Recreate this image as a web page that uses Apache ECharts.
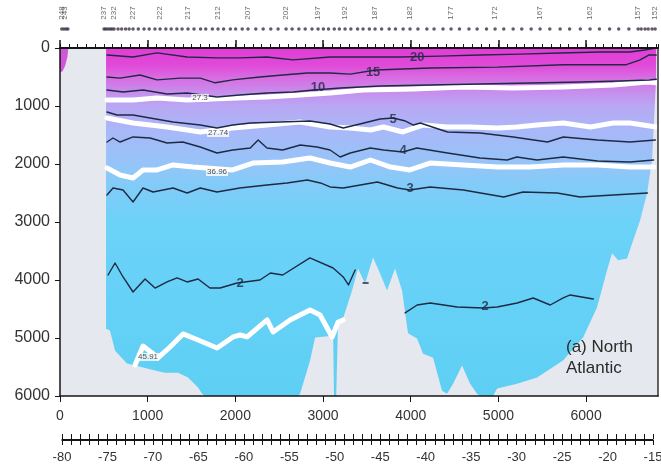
<!DOCTYPE html>
<html>
<head>
<meta charset="utf-8">
<title>North Atlantic section</title>
<script src="https://cdn.jsdelivr.net/npm/echarts@6/dist/echarts.min.js"></script>
<style>
  html, body { margin: 0; padding: 0; background: #fff; }
  #main { width: 661px; height: 468px; }
</style>
</head>
<body>
<div id="main"></div>
<script>
// distance along section in km, depth in m
var kmTicks = [0, 1000, 2000, 3000, 4000, 5000, 6000];
var depthTicks = [0, 1000, 2000, 3000, 4000, 5000, 6000];
var lonLabels = [-80, -75, -70, -65, -60, -55, -50, -45, -40, -35, -30, -25, -20, -15];

// sea floor (depth of water column bottom)
var seafloor = [[525,4840],[570,4870],[628,5220],[764,5440],[856,5475],[1084,5560],[1198,5600],[1346,5600],[1460,5680],[1575,5855],[1620,5960],[1654,6000],[2715,6000],[2738,5960],[2852,5390],[2909,4990],[3115,4960],[3125,6000],[3150,6000],[3172,4700],[3229,4660],[3331,4180],[3399,3800],[3479,4060],[3570,3610],[3650,3890],[3730,4180],[3821,3800],[3901,4180],[3969,4920],[4072,5010],[4141,5270],[4255,5340],[4357,5910],[4414,5960],[4483,5790],[4585,5475],[4677,5790],[4756,5960],[4791,6000],[4939,6000],[4985,5870],[5213,5790],[5441,5680],[5737,5390],[5966,4990],[6125,4470],[6239,3830],[6296,3540],[6365,3660],[6467,3630],[6536,3320],[6616,2970],[6696,2500],[6730,2160],[6753,1930],[6775,1240],[6798,550],[6800,0]];
var coastWater = [[0,420],[30,400],[60,300],[85,150],[95,0]];

// isotherms (deg C)
var iso20 = [[536,120],[833,155],[1107,85],[1450,155],[1790,170],[2050,170],[2360,155],[2660,205],[3080,155],[3420,155],[3880,155],[4330,140],[4790,120],[5250,105],[5700,85],[6160,70],[6500,70],[6670,35],[6790,0]];
var iso15 = [[536,500],[685,520],[913,466],[1107,550],[1370,520],[1600,520],[1770,600],[1970,550],[2280,500],[2540,466],[2820,430],[3080,430],[3310,450],[3600,380],[4220,345],[4990,330],[5740,290],[6450,290],[6610,210],[6720,120],[6800,120]];
var iso10 = [[536,724],[719,759],[947,724],[1221,793],[1450,776],[1790,845],[2050,810],[2360,776],[2660,759],[2890,724],[3200,690],[3650,655],[4220,638],[4790,621],[5360,603],[5930,586],[6390,569],[6720,552],[6800,540]];
var iso5 = [[536,1103],[650,1155],[833,1155],[1027,1207],[1290,1276],[1600,1328],[1790,1379],[1970,1328],[2170,1293],[2510,1276],[2850,1259],[3080,1310],[3230,1379],[3420,1310],[3650,1224],[3800,1207],[3940,1259],[4030,1328],[4110,1293],[4280,1379],[4420,1448],[4790,1465],[5170,1534],[5560,1621],[5740,1534],[6130,1586],[6500,1621],[6790,1586]];
var iso4 = [[536,1621],[605,1552],[685,1621],[833,1534],[1027,1552],[1221,1638],[1400,1621],[1600,1707],[1790,1810],[1970,1758],[2170,1724],[2260,1586],[2360,1724],[2540,1758],[2740,1672],[2930,1707],[3080,1758],[3195,1879],[3310,1810],[3540,1724],[3690,1758],[3910,1793],[4070,1724],[4420,1810],[4790,1896],[5100,1931],[5210,1879],[5440,1931],[5740,1879],[6130,1948],[6500,1965],[6770,1931]];
var iso3 = [[536,2534],[605,2414],[719,2448],[833,2655],[947,2414],[1061,2483],[1290,2414],[1450,2500],[1600,2414],[1790,2483],[2050,2414],[2360,2362],[2590,2327],[2820,2276],[2970,2327],[3080,2396],[3230,2414],[3620,2310],[3850,2414],[3990,2448],[4220,2396],[4600,2448],[5060,2569],[5280,2483],[5670,2500],[5930,2569],[6310,2534],[6700,2500]];
var iso2west = [[548,3914],[628,3707],[719,3948],[833,4207],[970,3982],[1084,4138],[1221,4034],[1335,3965],[1450,4034],[1575,3982],[1710,4138],[1826,4138],[2020,4051],[2280,4000],[2400,3879],[2540,3914],[2850,3620],[3115,3793],[3230,3948],[3290,4086],[3366,3827]];
var iso2bit = [[3457,4051],[3514,4051]];
var iso2east = [[3936,4568],[4073,4431],[4222,4396],[4530,4465],[4826,4482],[4986,4465],[5214,4396],[5397,4310],[5591,4431],[5739,4310],[5819,4258],[6082,4327]];

// neutral density / sigma surfaces (white)
var dens27_3 = [[536,897],[833,897],[1107,862],[1450,897],[2020,862],[2360,845],[2740,810],[3080,776],[3460,724],[4030,707],[4600,672],[5170,690],[5740,672],[6310,638],[6700,586],[6800,600]];
var dens27_74 = [[536,1207],[833,1293],[1221,1362],[1600,1448],[1970,1379],[2360,1328],[2740,1276],[3080,1362],[3310,1379],[3540,1414],[3690,1362],[3910,1448],[4140,1328],[4420,1362],[4680,1362],[4990,1379],[5210,1362],[5440,1328],[5740,1293],[6050,1362],[6310,1293],[6500,1293],[6800,1362]];
var dens36_96 = [[536,2069],[685,2189],[833,2241],[947,2103],[1107,2103],[1290,2017],[1520,2052],[1970,2103],[2200,1983],[2540,1965],[2850,1896],[3080,1983],[3310,2052],[3540,1931],[3770,2052],[3990,2103],[4220,1983],[4600,2017],[4990,2052],[5360,2052],[5740,2017],[6130,2017],[6500,2052],[6770,2052]];
var dens45_91 = [[856,5465],[947,5138],[1050,5258],[1118,5344],[1255,5155],[1403,4930],[1575,5034],[1791,5172],[1974,4982],[2054,4948],[2134,4982],[2362,4689],[2430,4896],[2624,4689],[2852,4517],[2966,4603],[3103,4982],[3172,4724],[3229,4689]];

var isoLabels = [
  { name: '20', value: [4073, 155] },
  { name: '15', value: [3571, 414] },
  { name: '10', value: [2943, 672] },
  { name: '5', value: [3799, 1224] },
  { name: '4', value: [3914, 1758] },
  { name: '3', value: [3994, 2414] },
  { name: '2', value: [2054, 4051] },
  { name: '2', value: [4849, 4448] }
];
var densLabels = [
  { name: '27.3', value: [1597, 862] },
  { name: '27.74', value: [1803, 1465] },
  { name: '36.96', value: [1791, 2138] },
  { name: '45.91', value: [1004, 5327] }
];

// stations along the top
var stationKm = [20, 45, 70, 90, 502, 522, 546, 571, 592, 616, 662, 703, 748, 788, 833, 893, 958, 1017, 1083, 1141, 1207, 1268, 1333, 1392, 1460, 1528, 1603, 1662, 1738, 1802, 1866, 1943, 2003, 2078, 2144, 2233, 2317, 2404, 2487, 2578, 2647, 2724, 2796, 2874, 2943, 3004, 3062, 3128, 3186, 3251, 3317, 3394, 3456, 3528, 3593, 3668, 3754, 3826, 3913, 3992, 4082, 4184, 4266, 4368, 4460, 4556, 4664, 4757, 4864, 4962, 5061, 5168, 5266, 5373, 5475, 5586, 5704, 5812, 5934, 6045, 6152, 6268, 6372, 6488, 6593, 6628, 6672, 6708, 6752, 6787];
var stationLabelKm = [25, 60, 502, 616, 833, 1141, 1460, 1802, 2144, 2578, 2943, 3251, 3593, 3992, 4460, 4962, 5475, 6045, 6593, 6787];
var stationNames = ['248', '243', '237', '232', '227', '222', '217', '212', '207', '202', '197', '192', '187', '182', '177', '172', '167', '162', '157', '152'];

var chart = echarts.init(document.getElementById('main'), null, { renderer: 'canvas' });

var font = 'Liberation Sans, Arial, sans-serif';
var axisColor = '#151515';
var plain = function (v) { return String(v); };

function contour(name, data, color, width, z) {
  return {
    name: name,
    type: 'line',
    data: data,
    symbol: 'none',
    silent: true,
    z: z,
    lineStyle: { color: color, width: width, join: 'round', cap: 'round' }
  };
}

var stationDots = stationKm.map(function (km) { return [km, 0.55]; });
var stationTexts = stationLabelKm.map(function (km, i) {
  return { name: stationNames[i], value: [km, 1.35] };
});

var option = {
  animation: false,
  backgroundColor: '#ffffff',
  title: {
    text: '(a) North\nAtlantic',
    left: 566,
    top: 337,
    padding: 0,
    textStyle: { fontSize: 17, fontWeight: 'normal', color: '#2b2b2b', lineHeight: 21, fontFamily: font }
  },
  grid: [
    { left: 60, right: 3, top: 48, bottom: 72, show: true, backgroundColor: '#e5e8ee', borderWidth: 0, outerBoundsMode: 'none' },
    { left: 60, right: 3, top: 0, height: 40, outerBoundsMode: 'none' },
    { left: 62, right: 8, top: 439, height: 1, outerBoundsMode: 'none' }
  ],
  xAxis: [
    {
      gridIndex: 0, type: 'value', position: 'bottom', min: 0, max: 6820, z: 10,
      axisLine: { onZero: false, lineStyle: { color: axisColor, width: 1.5 } },
      axisTick: { customValues: kmTicks, length: 6, lineStyle: { color: axisColor } },
      axisLabel: { customValues: kmTicks, formatter: plain, margin: 13, fontSize: 14, color: '#333', fontFamily: font },
      splitLine: { show: false }
    },
    {
      gridIndex: 0, type: 'value', position: 'top', min: 0, max: 6820, interval: 100, z: 10,
      axisLine: { onZero: false, lineStyle: { color: axisColor, width: 2 } },
      axisTick: { length: 4, lineStyle: { color: axisColor } },
      axisLabel: { show: false },
      splitLine: { show: false }
    },
    {
      gridIndex: 0, type: 'value', position: 'top', min: 0, max: 6820, z: 10,
      axisLine: { show: false, onZero: false },
      axisTick: { customValues: kmTicks, length: 8, lineStyle: { color: axisColor, width: 1.5 } },
      axisLabel: { show: false },
      splitLine: { show: false }
    },
    { gridIndex: 1, type: 'value', min: 0, max: 6820, show: false },
    {
      gridIndex: 2, type: 'value', position: 'bottom', min: -80, max: -15, interval: 1,
      axisLine: { onZero: false, lineStyle: { color: axisColor, width: 1.2 } },
      axisTick: { length: 5, lineStyle: { color: axisColor } },
      axisLabel: { customValues: lonLabels, formatter: plain, margin: 11, fontSize: 13, color: '#333', fontFamily: font },
      splitLine: { show: false }
    },
    {
      gridIndex: 2, type: 'value', position: 'top', min: -80, max: -15, interval: 1,
      axisLine: { onZero: false, lineStyle: { color: axisColor, width: 1.2 } },
      axisTick: { length: 5, lineStyle: { color: axisColor } },
      axisLabel: { show: false },
      splitLine: { show: false }
    }
  ],
  yAxis: [
    {
      gridIndex: 0, type: 'value', inverse: true, min: 0, max: 6000, interval: 1000, z: 10,
      axisLine: { show: true, onZero: false, lineStyle: { color: axisColor, width: 1.5 } },
      axisTick: { show: true, length: 5, lineStyle: { color: axisColor } },
      axisLabel: { customValues: depthTicks, formatter: plain, margin: 10, fontSize: 16, color: '#333', fontFamily: font },
      splitLine: { show: false }
    },
    {
      gridIndex: 0, type: 'value', position: 'right', inverse: true, min: 0, max: 6000, z: 10,
      axisLine: { show: true, onZero: false, lineStyle: { color: '#333', width: 1.5 } },
      axisTick: { show: false },
      axisLabel: { show: false },
      splitLine: { show: false }
    },
    { gridIndex: 1, type: 'value', min: 0, max: 2, show: false },
    { gridIndex: 2, type: 'value', min: 0, max: 1, show: false }
  ],
  series: [
    {
      name: 'water',
      type: 'line',
      data: seafloor,
      symbol: 'none',
      silent: true,
      z: 1,
      lineStyle: { width: 0 },
      areaStyle: {
        origin: 'start',
        opacity: 1,
        color: new echarts.graphic.LinearGradient(0, 0, 0, 1, [
          { offset: 0, color: '#e23cd6' },
          { offset: 0.05, color: '#e04ad8' },
          { offset: 0.085, color: '#d86ce2' },
          { offset: 0.13, color: '#c690ee' },
          { offset: 0.17, color: '#b8a8f4' },
          { offset: 0.24, color: '#a8b8f8' },
          { offset: 0.33, color: '#96c4f8' },
          { offset: 0.40, color: '#80ccf8' },
          { offset: 0.5, color: '#6cd2f8' },
          { offset: 1, color: '#5ecff4' }
        ])
      }
    },
    {
      name: 'coast',
      type: 'line',
      data: coastWater,
      symbol: 'none',
      silent: true,
      z: 1,
      lineStyle: { width: 0 },
      areaStyle: { origin: 'start', opacity: 1, color: '#d456d8' }
    },
    contour('27.3', dens27_3, '#ffffff', 5, 3),
    contour('27.74', dens27_74, '#ffffff', 5, 3),
    contour('36.96', dens36_96, '#ffffff', 5, 3),
    contour('45.91', dens45_91, '#ffffff', 5, 3),
    contour('20', iso20, '#1e2a44', 1.4, 4),
    contour('15', iso15, '#1e2a44', 1.4, 4),
    contour('10', iso10, '#1e2a44', 1.4, 4),
    contour('5', iso5, '#1e2a44', 1.4, 4),
    contour('4', iso4, '#1e2a44', 1.4, 4),
    contour('3', iso3, '#1e2a44', 1.4, 4),
    contour('2w', iso2west, '#1e2a44', 1.4, 4),
    contour('2b', iso2bit, '#1e2a44', 1.4, 4),
    contour('2e', iso2east, '#1e2a44', 1.4, 4),
    {
      name: 'isoLabels',
      type: 'scatter',
      data: isoLabels,
      symbolSize: 1,
      silent: true,
      z: 6,
      itemStyle: { color: 'rgba(0,0,0,0)' },
      label: { show: true, position: 'inside', formatter: '{b}', fontSize: 13, fontWeight: 'bold', color: '#1e2a44', fontFamily: font }
    },
    {
      name: 'densLabels',
      type: 'scatter',
      data: densLabels,
      symbolSize: 1,
      silent: true,
      z: 6,
      itemStyle: { color: 'rgba(0,0,0,0)' },
      label: { show: true, position: 'inside', formatter: '{b}', fontSize: 8, color: '#222', backgroundColor: '#ffffff', padding: [0, 1], fontFamily: font }
    },
    {
      name: 'stations',
      type: 'scatter',
      xAxisIndex: 3,
      yAxisIndex: 2,
      data: stationDots,
      symbolSize: 3.5,
      silent: true,
      itemStyle: { color: '#3b2f45' }
    },
    {
      name: 'stationNames',
      type: 'scatter',
      xAxisIndex: 3,
      yAxisIndex: 2,
      data: stationTexts,
      symbolSize: 1,
      silent: true,
      itemStyle: { color: 'rgba(0,0,0,0)' },
      label: { show: true, position: 'inside', formatter: '{b}', rotate: 90, fontSize: 8, color: '#444', fontFamily: font }
    }
  ]
};

chart.setOption(option);
</script>
</body>
</html>
